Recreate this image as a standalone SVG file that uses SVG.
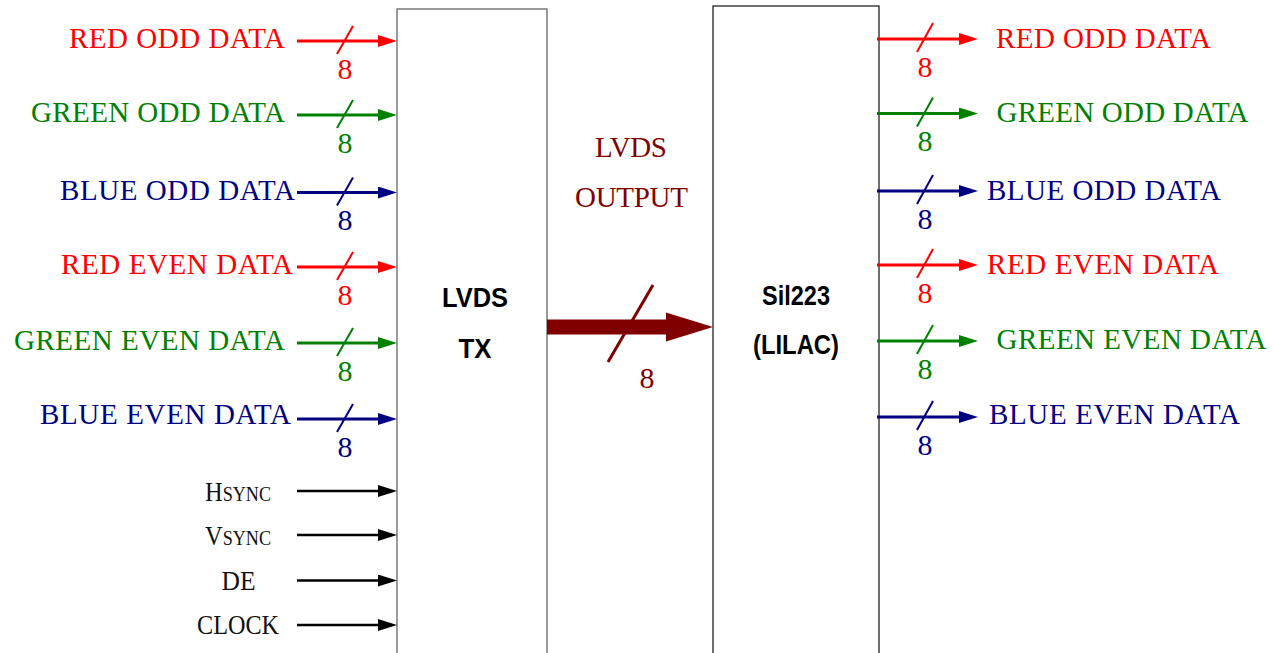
<svg xmlns="http://www.w3.org/2000/svg" width="1274" height="653" viewBox="0 0 1274 653">
<style>
.lbl{font-family:"Liberation Serif","Times New Roman",serif;font-size:29px}
.n8{font-family:"Liberation Serif","Times New Roman",serif;font-size:30px;text-anchor:middle}
.sync{font-family:"Liberation Serif","Times New Roman",serif;fill:#111}
.blk{font-family:"Liberation Sans",Arial,sans-serif;font-weight:bold;font-size:27.5px;text-anchor:middle;fill:#000}
.r{fill:#ff0000}.g{fill:#008000}.b{fill:#000080}.m{fill:#800000}
.lr{stroke:#ff0000}.lg{stroke:#008000}.lb{stroke:#000080}.lk{stroke:#000}
.bus{stroke-width:3;fill:none}
.sig{stroke-width:2.5;fill:none}
.sl{stroke-width:2;fill:none}
.box{fill:#fff}
</style>
<defs>
<marker id="ar" markerUnits="userSpaceOnUse" viewBox="0 0 19 12" markerWidth="19" markerHeight="12" refX="7" refY="6" orient="auto"><path d="M0,0 L19,6 L0,12 Z" fill="#ff0000"/></marker>
<marker id="ag" markerUnits="userSpaceOnUse" viewBox="0 0 19 12" markerWidth="19" markerHeight="12" refX="7" refY="6" orient="auto"><path d="M0,0 L19,6 L0,12 Z" fill="#008000"/></marker>
<marker id="ab" markerUnits="userSpaceOnUse" viewBox="0 0 19 12" markerWidth="19" markerHeight="12" refX="7" refY="6" orient="auto"><path d="M0,0 L19,6 L0,12 Z" fill="#000080"/></marker>
<marker id="ak" markerUnits="userSpaceOnUse" viewBox="0 0 19 12" markerWidth="19" markerHeight="12" refX="7" refY="6" orient="auto"><path d="M0,0 L19,6 L0,12 Z" fill="#000"/></marker>
</defs>

<g id="lvds-tx">
<rect class="box" x="397" y="9" width="150" height="660" stroke="#666" stroke-width="1.3"/>
<text class="blk" x="475" y="307" textLength="66" lengthAdjust="spacingAndGlyphs">LVDS</text>
<text class="blk" x="475" y="358" textLength="33" lengthAdjust="spacingAndGlyphs">TX</text>
</g>

<g id="sil223">
<rect class="box" x="713" y="6" width="166" height="660" stroke="#222" stroke-width="1.3"/>
<text class="blk" x="796" y="305" textLength="68" lengthAdjust="spacingAndGlyphs">Sil223</text>
<text class="blk" x="796" y="354" textLength="86" lengthAdjust="spacingAndGlyphs">(LILAC)</text>
</g>

<g id="lvds-output-label">
<text class="lbl m" x="631" y="157" text-anchor="middle" textLength="72">LVDS</text>
<text class="lbl m" x="631.5" y="207" text-anchor="middle" textLength="113">OUTPUT</text>
</g>

<g id="inputs-labels">
<text class="lbl r" x="285" y="48" text-anchor="end" textLength="216">RED ODD DATA</text>
<text class="lbl g" x="285" y="122" text-anchor="end" textLength="254">GREEN ODD DATA</text>
<text class="lbl b" x="295" y="200" text-anchor="end" textLength="235">BLUE ODD DATA</text>
<text class="lbl r" x="293" y="274" text-anchor="end" textLength="232">RED EVEN DATA</text>
<text class="lbl g" x="285" y="349.5" text-anchor="end" textLength="271">GREEN EVEN DATA</text>
<text class="lbl b" x="291" y="424" text-anchor="end" textLength="251">BLUE EVEN DATA</text>
<text class="sync" x="205" y="501" textLength="66" lengthAdjust="spacingAndGlyphs"><tspan font-size="27">H</tspan><tspan font-size="20">SYNC</tspan></text>
<text class="sync" x="205" y="545" textLength="66" lengthAdjust="spacingAndGlyphs"><tspan font-size="27">V</tspan><tspan font-size="20">SYNC</tspan></text>
<text class="sync" x="221.5" y="590" font-size="27" textLength="34" lengthAdjust="spacingAndGlyphs">DE</text>
<text class="sync" x="197" y="634" font-size="27" textLength="82" lengthAdjust="spacingAndGlyphs">CLOCK</text>
</g>

<g id="outputs-labels">
<text class="lbl r" x="996" y="48" textLength="215">RED ODD DATA</text>
<text class="lbl g" x="996.5" y="122" textLength="252">GREEN ODD DATA</text>
<text class="lbl b" x="987" y="200" textLength="234">BLUE ODD DATA</text>
<text class="lbl r" x="987" y="274" textLength="232">RED EVEN DATA</text>
<text class="lbl g" x="996.5" y="349" textLength="270">GREEN EVEN DATA</text>
<text class="lbl b" x="989" y="424" textLength="251">BLUE EVEN DATA</text>
</g>

<g id="connectors">
<line class="bus lr" x1="297" y1="41" x2="385" y2="41" marker-end="url(#ar)"/>
<line class="sl lr" x1="337" y1="54" x2="353" y2="26"/>
<text class="n8 r" x="345" y="79">8</text>

<line class="bus lg" x1="297" y1="115" x2="385" y2="115" marker-end="url(#ag)"/>
<line class="sl lg" x1="337" y1="128" x2="353" y2="100"/>
<text class="n8 g" x="345" y="152.5">8</text>

<line class="bus lb" x1="297" y1="192.5" x2="385" y2="192.5" marker-end="url(#ab)"/>
<line class="sl lb" x1="337" y1="205.5" x2="353" y2="177.5"/>
<text class="n8 b" x="345" y="230">8</text>

<line class="bus lr" x1="297" y1="267" x2="385" y2="267" marker-end="url(#ar)"/>
<line class="sl lr" x1="337" y1="280" x2="353" y2="252"/>
<text class="n8 r" x="345" y="305">8</text>

<line class="bus lg" x1="297" y1="343" x2="385" y2="343" marker-end="url(#ag)"/>
<line class="sl lg" x1="337" y1="356" x2="353" y2="328"/>
<text class="n8 g" x="345" y="381">8</text>

<line class="bus lb" x1="297" y1="419" x2="385" y2="419" marker-end="url(#ab)"/>
<line class="sl lb" x1="337" y1="432" x2="353" y2="404"/>
<text class="n8 b" x="345" y="457">8</text>

<line class="sig lk" x1="297" y1="491" x2="385" y2="491" marker-end="url(#ak)"/>
<line class="sig lk" x1="297" y1="535" x2="385" y2="535" marker-end="url(#ak)"/>
<line class="sig lk" x1="297" y1="580.5" x2="385" y2="580.5" marker-end="url(#ak)"/>
<line class="sig lk" x1="297" y1="625" x2="385" y2="625" marker-end="url(#ak)"/>

<rect x="547" y="319.5" width="121" height="15" fill="#800000"/>
<path d="M666,312.5 L713,327 L666,341.5 Z" fill="#800000"/>
<line x1="608" y1="362" x2="653" y2="285" stroke="#800000" stroke-width="3"/>
<text class="n8 m" x="647" y="388">8</text>

<line class="bus lr" x1="877" y1="39" x2="966" y2="39" marker-end="url(#ar)"/>
<line class="sl lr" x1="917" y1="52" x2="933" y2="23"/>
<text class="n8 r" x="925" y="77">8</text>

<line class="bus lg" x1="877" y1="113.5" x2="966" y2="113.5" marker-end="url(#ag)"/>
<line class="sl lg" x1="917" y1="126.5" x2="933" y2="97.5"/>
<text class="n8 g" x="925" y="151">8</text>

<line class="bus lb" x1="877" y1="191" x2="966" y2="191" marker-end="url(#ab)"/>
<line class="sl lb" x1="917" y1="204" x2="933" y2="175"/>
<text class="n8 b" x="925" y="228.5">8</text>

<line class="bus lr" x1="877" y1="265" x2="966" y2="265" marker-end="url(#ar)"/>
<line class="sl lr" x1="917" y1="278" x2="933" y2="249"/>
<text class="n8 r" x="925" y="303">8</text>

<line class="bus lg" x1="877" y1="341" x2="966" y2="341" marker-end="url(#ag)"/>
<line class="sl lg" x1="917" y1="354" x2="933" y2="325"/>
<text class="n8 g" x="925" y="379">8</text>

<line class="bus lb" x1="877" y1="417" x2="966" y2="417" marker-end="url(#ab)"/>
<line class="sl lb" x1="917" y1="430" x2="933" y2="401"/>
<text class="n8 b" x="925" y="455">8</text>
</g>
</svg>
